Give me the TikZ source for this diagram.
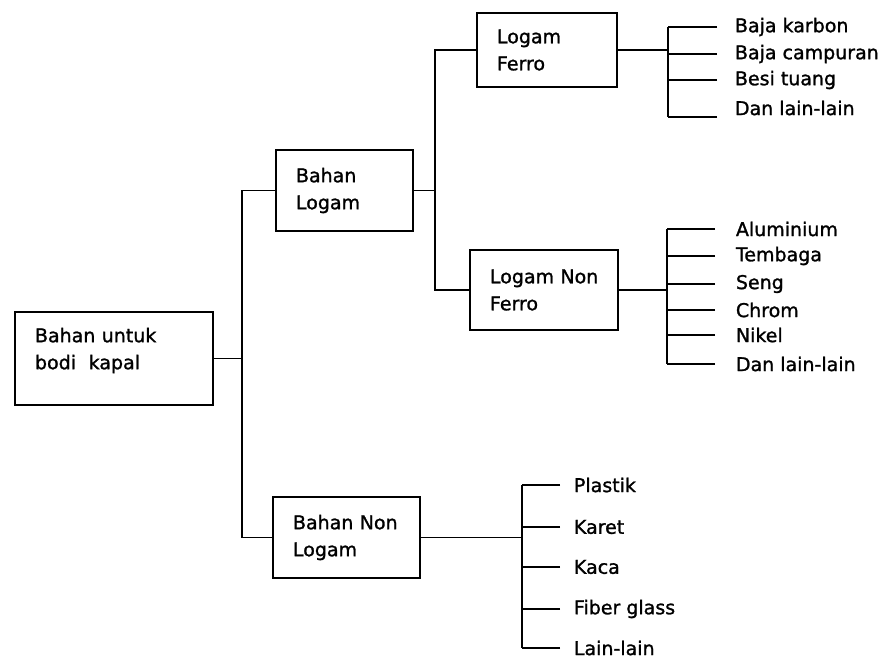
\documentclass[tikz,border=0pt]{standalone}
\usepackage{fontspec}
\setmainfont{DejaVu Sans}[AutoFakeBold=1.3]
\begin{document}
\begin{tikzpicture}[x=1pt,y=-1pt,line width=1.9pt,
  box/.style={draw,rectangle,inner xsep=20pt,inner ysep=2pt,align=left,
    font=\fontsize{19}{27}\selectfont\bfseries},
  leaf/.style={anchor=west,inner sep=0pt,font=\fontsize{19}{23}\selectfont\bfseries}]
\useasboundingbox (0,0) rectangle (886,658);
% boxes
\node[box,minimum width=198pt,minimum height=93pt,text width=158pt] (root) at (114,358.5) {Bahan~untuk\\bodi\ \ kapal\\[-7pt]\mbox{}};
\node[box,minimum width=137pt,minimum height=81pt,text width=97pt] (logam) at (344.5,190.5) {Bahan\\Logam};
\node[box,minimum width=147pt,minimum height=81pt,text width=107pt] (nonlogam) at (346.5,537.5) {Bahan~Non\\Logam};
\node[box,minimum width=140pt,minimum height=74pt,text width=100pt] (ferro) at (547,50) {Logam\\Ferro};
\node[box,minimum width=148pt,minimum height=80pt,text width=108pt] (nonferro) at (544,290) {Logam~Non\\Ferro};
% spines
\coordinate (s1) at (242,0);
\coordinate (s2) at (435,0);
\coordinate (s3) at (668,0);
\coordinate (s4) at (667,0);
\coordinate (s5) at (522,0);
% level 1
\draw (root.east) -- (root.east -| s1);
\draw (logam.west) -- (logam.west -| s1) |- (nonlogam.west);
% level 2
\draw (logam.east) -- (logam.east -| s2);
\draw (ferro.west) -- (ferro.west -| s2) |- (nonferro.west);
% ferro leaves
\node[leaf] (f1) at (734,27) {Baja karbon};
\node[leaf] (f2) at (734,54) {Baja campuran};
\node[leaf] (f3) at (734,80) {Besi tuang};
\node[leaf] (f4) at (734,108) {Dan lain-lain};
\coordinate (f4l) at (717,117);
\draw (ferro.east) -- (ferro.east -| s3);
\foreach \n in {f1,f2,f3} \draw ([xshift=-17pt]\n.west) -- (\n.west -| s3);
\draw (f4l) -- (f4l -| s3);
\draw (f1.west -| s3) -- (f4l -| s3);
% non ferro leaves
\node[leaf] (n1) at (735,229) {Aluminium};
\node[leaf] (n2) at (735,256) {Tembaga};
\node[leaf] (n3) at (735,284) {Seng};
\node[leaf] (n4) at (735,310) {Chrom};
\node[leaf] (n5) at (735,335) {Nikel};
\node[leaf] (n6) at (735,364) {Dan lain-lain};
\draw (nonferro.east) -- (nonferro.east -| s4);
\foreach \n in {n1,n2,n3,n4,n5,n6} \draw ([xshift=-20pt]\n.west) -- (\n.west -| s4);
\draw (n1.west -| s4) -- (n6.west -| s4);
% non logam leaves
\node[leaf] (p1) at (573,485) {Plastik};
\node[leaf] (p2) at (573,527) {Karet};
\node[leaf] (p3) at (573,567) {Kaca};
\node[leaf] (p4) at (573,609) {Fiber glass};
\node[leaf] (p5) at (573,648) {Lain-lain};
\draw (nonlogam.east) -- (nonlogam.east -| s5);
\foreach \n in {p1,p2,p3,p4,p5} \draw ([xshift=-13pt]\n.west) -- (\n.west -| s5);
\draw (p1.west -| s5) -- (p5.west -| s5);
\end{tikzpicture}
\end{document}
